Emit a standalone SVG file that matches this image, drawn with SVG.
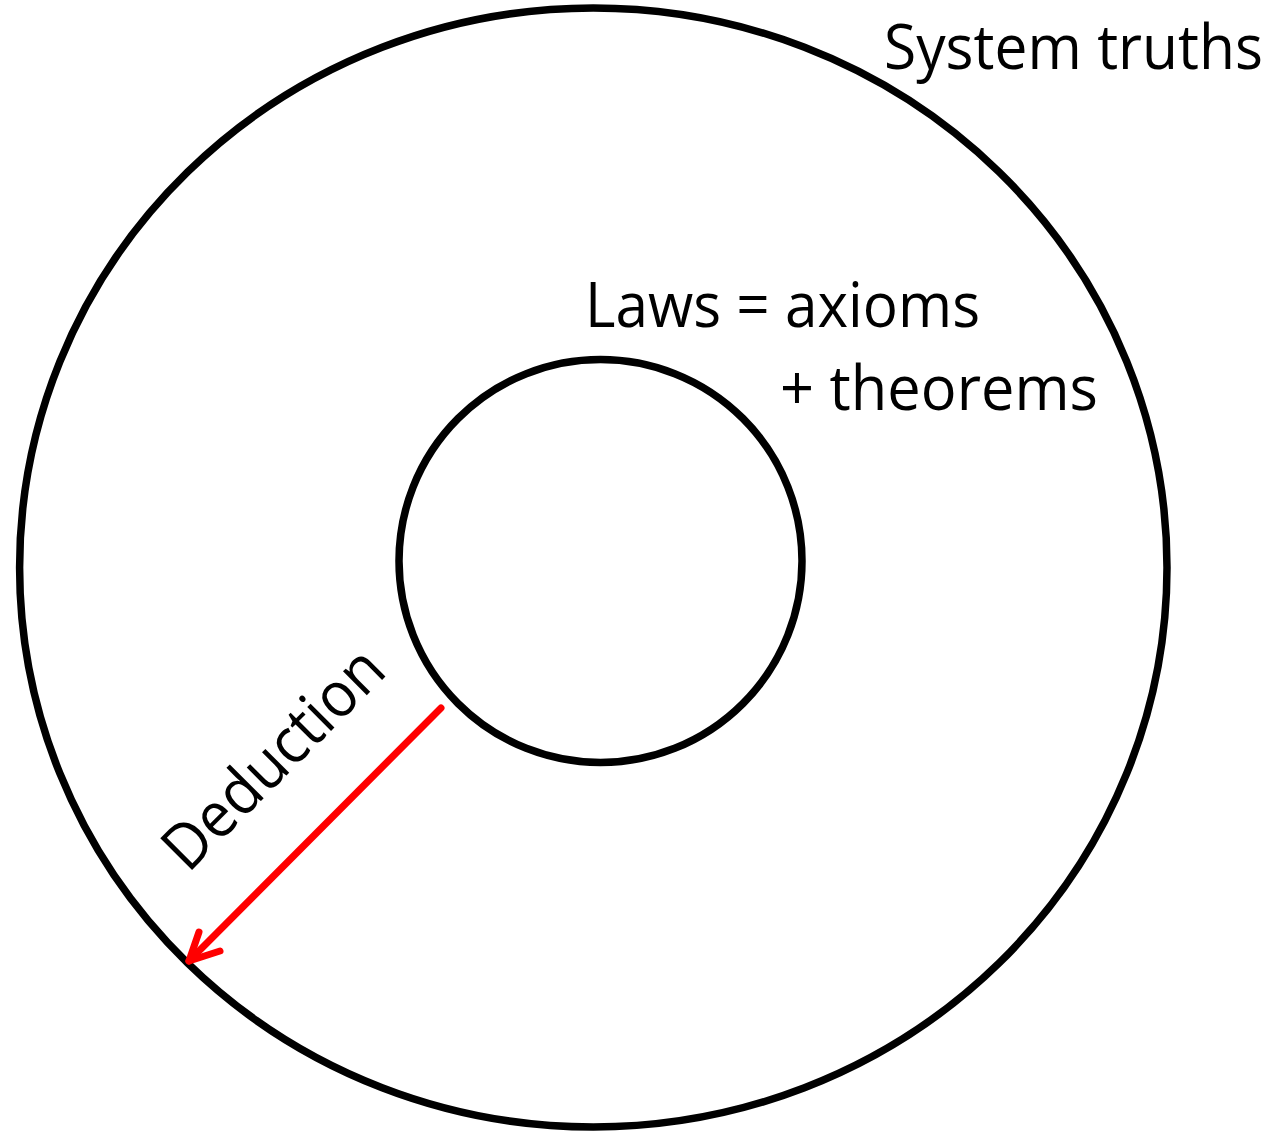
<svg xmlns="http://www.w3.org/2000/svg" width="1278" height="1132" viewBox="0 0 1278 1132">
<style>
.ring{fill:none;stroke:#000;stroke-width:7.5}
.lbl{font-family:"Open Sans","Liberation Sans",sans-serif;font-size:63px;fill:#000}
.arrow{fill:none;stroke:#ff0000;stroke-width:7;stroke-linecap:round;stroke-linejoin:round}
</style>
<rect width="1278" height="1132" fill="#fff"/>
<g id="system-truths">
<ellipse class="ring" cx="593.3" cy="567.5" rx="573.7" ry="559.5"/>
<text class="lbl" x="884" y="69" textLength="379" lengthAdjust="spacingAndGlyphs">System truths</text>
</g>
<g id="laws">
<circle class="ring" cx="600.5" cy="561" r="201.5"/>
<text class="lbl" x="585" y="327" textLength="395" lengthAdjust="spacingAndGlyphs">Laws = axioms</text>
<text class="lbl" x="780" y="410" textLength="318" lengthAdjust="spacingAndGlyphs">+ theorems</text>
</g>
<g id="connectors">
<path class="arrow" d="M441,708 L189,961"/>
<path class="arrow" d="M199,932 L189,961 L220,951"/>
<text class="lbl" transform="translate(188,874) rotate(-45)" textLength="284" lengthAdjust="spacingAndGlyphs">Deduction</text>
</g>
</svg>
